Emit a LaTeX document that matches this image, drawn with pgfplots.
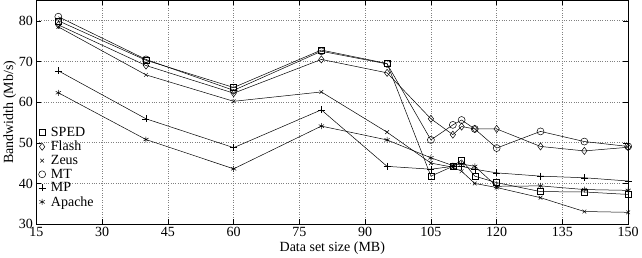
\documentclass[border=0pt]{standalone}
\usepackage{fontspec}
\setmainfont{Liberation Serif}
\usepackage{pgfplots}
\pgfplotsset{compat=1.18}
\begin{document}
\begin{tikzpicture}
\begin{axis}[
  scale only axis,
  width=590bp, height=223bp,
  xmin=15, xmax=150, ymin=30, ymax=85,
  xtick={15,30,...,150},
  ytick={30,40,...,80},
  tick align=inside,
  grid=major,
  major grid style={dotted, gray, line width=0.6pt},
  axis line style={line width=0.9pt},
  tick style={black, line width=0.5pt},
  major tick length=5pt,
  font=\fontsize{14}{16}\selectfont,
  /pgf/number format/assume math mode=true,
  xlabel={Data set size (MB)},
  ylabel={Bandwidth (Mb/s)},
  xlabel style={yshift=2pt},
  ylabel style={yshift=-4pt},
  legend style={at={(0.0,0.06)}, anchor=south west, draw=none, fill=none,
    font=\fontsize{14}{15}\selectfont, row sep=-1pt, inner sep=1pt},
  legend cell align=left,
  legend image code/.code={\path[draw=none] (-0.02cm,0) -- (0.38cm,0); \draw[#1, only marks] plot coordinates {(0.14cm,0cm)};},
]
\addplot[black, line width=0.5pt, mark=square, mark size=3pt] coordinates {(20,80)(40,70.3)(60,63.6)(80,72.8)(95,69.5)(105,41.8)(110,44.2)(112,45.8)(115,41.8)(120,40.2)(130,38)(140,37.9)(150,37.3)};
\addlegendentry{SPED}
\addplot[black, line width=0.5pt, mark=diamond, mark size=3.6pt] coordinates {(20,79)(40,69)(60,62.2)(80,70.5)(95,67.2)(105,55.9)(110,52)(112,54)(115,53.4)(120,53.4)(130,49.1)(140,48)(150,48.9)};
\addlegendentry{Flash}
\addplot[black, line width=0.5pt, mark=x, mark size=2.6pt] coordinates {(20,78.5)(40,66.7)(60,60.2)(80,62.5)(95,52.6)(105,45)(110,44)(112,43)(115,40)(120,39)(130,36.5)(140,33.1)(150,32.9)};
\addlegendentry{Zeus}
\addplot[black, line width=0.5pt, mark=o, mark size=3.5pt] coordinates {(20,81)(40,70.5)(60,62.9)(80,72.5)(95,69.4)(105,50.7)(110,54.4)(112,55.6)(115,53.4)(120,48.7)(130,52.8)(140,50.3)(150,49.1)};
\addlegendentry{MT}
\addplot[black, line width=0.5pt, mark=+, mark size=3.5pt] coordinates {(20,67.7)(40,55.9)(60,48.8)(80,58.1)(95,44.2)(105,43.5)(110,44.2)(112,44.2)(115,43.5)(120,42.6)(130,41.8)(140,41.4)(150,40.6)};
\addlegendentry{MP}
\addplot[black, line width=0.5pt, mark=asterisk, mark size=3pt] coordinates {(20,62.3)(40,50.8)(60,43.6)(80,54.1)(95,50.7)(105,46.3)(110,44.4)(112,44.8)(115,44.2)(120,39.3)(130,39.4)(140,38.5)(150,38.3)};
\addlegendentry{Apache}
\end{axis}
\end{tikzpicture}
\end{document}
